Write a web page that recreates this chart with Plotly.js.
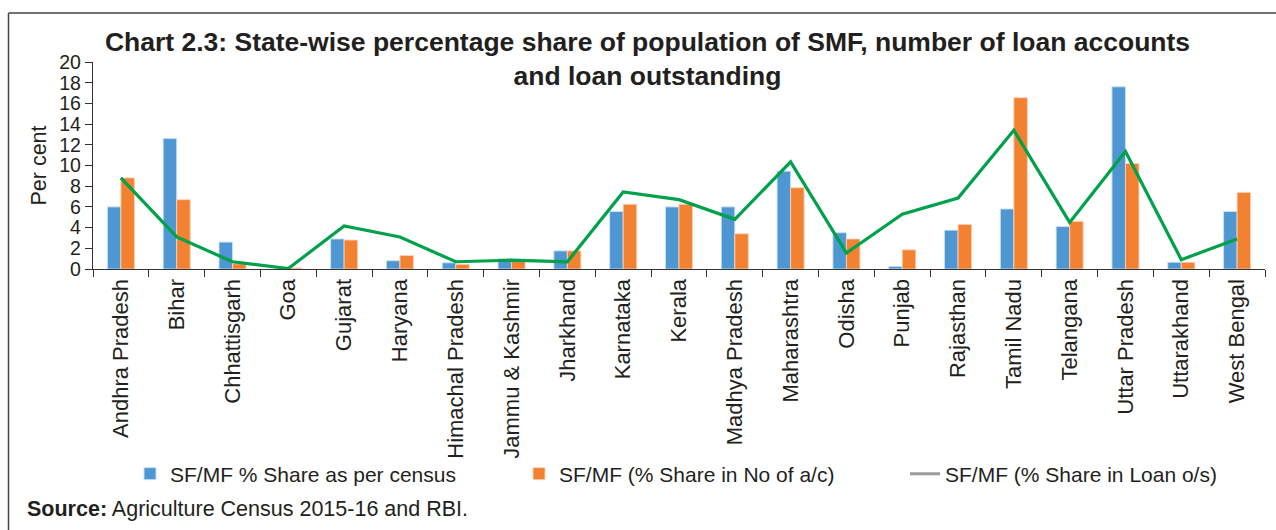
<!DOCTYPE html>
<html>
<head>
<meta charset="utf-8">
<script src="https://cdn.plot.ly/plotly-3.0.1.min.js"></script>
<style>
html,body{margin:0;padding:0;background:#fff;}
#chart{width:1276px;height:530px;}
</style>
</head>
<body>
<div id="chart"></div>
<script>
var states = ["Andhra Pradesh","Bihar","Chhattisgarh","Goa","Gujarat","Haryana","Himachal Pradesh","Jammu & Kashmir","Jharkhand","Karnataka","Kerala","Madhya Pradesh","Maharashtra","Odisha","Punjab","Rajasthan","Tamil Nadu","Telangana","Uttar Pradesh","Uttarakhand","West Bengal"];
var censusShare = [6.0,12.6,2.6,0.05,2.9,0.8,0.6,1.0,1.75,5.55,6.0,6.0,9.45,3.5,0.25,3.75,5.8,4.1,17.6,0.65,5.55];
var accountShare = [8.8,6.7,0.5,0.1,2.8,1.3,0.45,0.8,1.75,6.25,6.25,3.4,7.85,2.9,1.85,4.3,16.55,4.6,10.2,0.65,7.4];
var loanShare = [8.8,3.1,0.7,0.05,4.15,3.1,0.7,0.85,0.7,7.45,6.7,4.8,10.35,1.55,5.3,6.85,13.4,4.5,11.35,0.9,2.9];
var seriesNames = ["SF/MF % Share as per census","SF/MF (% Share in No of a/c)","SF/MF (% Share in Loan o/s)"];
var yTicks = [0,2,4,6,8,10,12,14,16,18,20];

var FONT = "Liberation Sans, Arial, Helvetica, sans-serif";
var TXT = "#231F20";

var traces = [
  {type:"bar", x:states, y:censusShare, name:seriesNames[0], legend:"legend",
   marker:{color:"#4E97D3", line:{color:"rgba(200,225,245,0.9)", width:1}}, hoverinfo:"x+y"},
  {type:"bar", x:states, y:accountShare, name:seriesNames[1], legend:"legend2",
   marker:{color:"#F38132", line:{color:"rgba(250,210,180,0.9)", width:1}}, hoverinfo:"x+y"},
  {type:"scatter", mode:"lines", x:states, y:loanShare, name:seriesNames[2], showlegend:false,
   line:{color:"#00A14B", width:3.2}},
  {type:"scatter", mode:"lines", x:[states[0]], y:[null], name:seriesNames[2], legend:"legend3",
   line:{color:"#9D9D9D", width:3}, hoverinfo:"skip"}
];

var L = 93, R = 11, T = 62, B = 261;
var pw = 1276 - L - R, ph = 530 - T - B;
function px2x(p){ return (p - L)/pw; }
function py2y(p){ return (530 - B - p)/ph; }

var legBase = {orientation:"h", xref:"container", yref:"container", yanchor:"middle",
  y: 1 - 474/530, bgcolor:"rgba(0,0,0,0)", borderwidth:0,
  font:{family:FONT, size:21, color:TXT}};

var layout = {
  width:1276, height:530,
  margin:{l:L, r:R, t:T, b:B},
  paper_bgcolor:"#fff", plot_bgcolor:"#fff",
  font:{family:FONT, color:TXT},
  title:{text:"<b>Chart 2.3: State-wise percentage share of population of SMF, number of loan accounts<br>and loan outstanding</b>",
    font:{family:FONT, size:26.5, color:TXT}, xref:"container", yref:"container",
    x:647.5/1276, xanchor:"center", y:1-51/530, yanchor:"top"},
  barmode:"group", bargap:0.516, bargroupgap:0,
  xaxis:{type:"category", range:[-0.5, 20.5], tickangle:-90, ticks:"outside", tickson:"boundaries",
    ticklen:7, tickcolor:"#333", showline:true, linecolor:"#333", linewidth:1.2,
    tickfont:{family:FONT, size:22, color:TXT}, showgrid:false, zeroline:false, fixedrange:true},
  yaxis:{range:[0,20], tickvals:yTicks, ticks:"outside", ticklen:7, tickcolor:"#333",
    showline:true, linecolor:"#333", linewidth:1.2, showgrid:false, zeroline:false,
    tickfont:{family:FONT, size:19.5, color:TXT},
    title:{text:"Per cent", font:{family:FONT, size:21.5, color:TXT}, standoff:6}, fixedrange:true},
  legend:Object.assign({}, legBase, {x:(130)/1276, xanchor:"left"}),
  legend2:Object.assign({}, legBase, {x:(519)/1276, xanchor:"left"}),
  legend3:Object.assign({}, legBase, {x:(905)/1276, xanchor:"left"}),
  annotations:[
    {text:"<b>Source:</b> Agriculture Census 2015-16 and RBI.", xref:"paper", yref:"paper",
     x:px2x(25), y:py2y(509), xanchor:"left", yanchor:"middle", showarrow:false,
     font:{family:FONT, size:21.5, color:TXT}}
  ],
  shapes:[
    {type:"line", xref:"paper", yref:"paper", x0:px2x(8.5), x1:px2x(1300), y0:py2y(13), y1:py2y(13),
     line:{color:"#444", width:1.5}},
    {type:"line", xref:"paper", yref:"paper", x0:px2x(8.5), x1:px2x(8.5), y0:py2y(13), y1:py2y(560),
     line:{color:"#444", width:1.5}}
  ],
  showlegend:true
};

Plotly.newPlot("chart", traces, layout, {displayModeBar:false, staticPlot:true});
</script>
</body>
</html>
